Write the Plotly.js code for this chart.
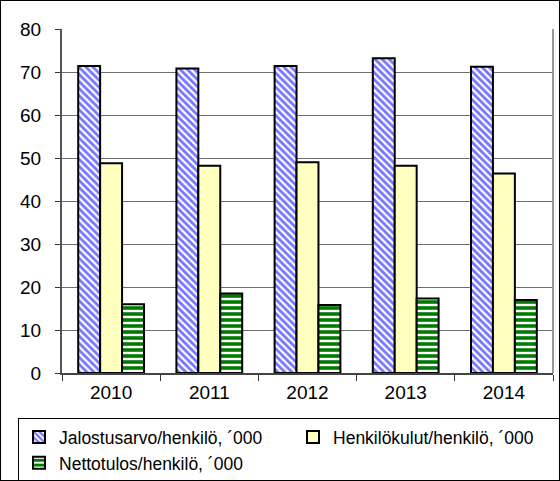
<!DOCTYPE html>
<html><head><meta charset="utf-8">
<script src="https://cdn.plot.ly/plotly-3.0.1.min.js"></script>
<style>body{margin:0;padding:0;background:#fff}#wrap{position:relative;width:560px;height:481px;overflow:hidden}#c{width:560px;height:481px}#frame{position:absolute;left:0;top:0;width:558px;height:479px;border:1px solid #000;pointer-events:none}</style>
</head><body>
<div id="wrap"><div id="c"></div><div id="frame"></div></div>
<script>
const years = ['2010','2011','2012','2013','2014'];
const jalostusarvo = [71.4, 70.8, 71.4, 73.2, 71.2];
const henkilokulut = [48.8, 48.2, 49.0, 48.2, 46.4];
const nettotulos = [16.0, 18.5, 15.8, 17.3, 17.0];
const names = ['Jalostusarvo/henkilö, ´000','Henkilökulut/henkilö, ´000','Nettotulos/henkilö, ´000'];

const traces = [
  {type:'bar', x:years, y:jalostusarvo, name:names[0],
   marker:{color:'#ffffff', line:{color:'#000', width:2},
     pattern:{shape:'\\', fgcolor:'#7575ff', bgcolor:'#ffffff', size:5, solidity:0.55}}},
  {type:'bar', x:years, y:henkilokulut, name:names[1],
   marker:{color:'#ffffc0', line:{color:'#000', width:2}}},
  {type:'bar', x:years, y:nettotulos, name:names[2],
   marker:{color:'#ffffff', line:{color:'#000', width:2},
     pattern:{shape:'-', fgcolor:'#007a00', bgcolor:'#ffffff', size:6, solidity:0.6}}}
];
const layout = {
  width:560, height:481,
  margin:{l:62, r:7, t:29, b:108, autoexpand:false},
  paper_bgcolor:'#fff', plot_bgcolor:'#fff',
  font:{family:'Liberation Sans, Arial, sans-serif', size:18, color:'#000'},
  barmode:'group', bargap:0.33, bargroupgap:0,
  xaxis:{type:'category', showline:true, linecolor:'#444', linewidth:2, ticks:'outside', tickson:'boundaries', ticklen:6, tickcolor:'#333', showgrid:false, tickfont:{size:19}, ticklabelstandoff:1},
  yaxis:{range:[0,80], dtick:10, showline:true, linecolor:'#555', linewidth:2, ticks:'outside', ticklen:5, tickcolor:'#333', gridcolor:'#6e6e6e', gridwidth:1, zeroline:false, tickfont:{size:19}, ticklabelstandoff:10},
  shapes:[{type:'line', xref:'paper', yref:'paper', x0:1, x1:1, y0:0, y1:1, line:{color:'#999', width:2}}],
  showlegend:true,
  legend:{orientation:'h', x:-0.0896, xanchor:'left', y:-0.131, yanchor:'top', bordercolor:'#000', borderwidth:1, bgcolor:'#fff', font:{size:17.5}, entrywidth:229, traceorder:'normal'}
};
Plotly.newPlot('c', traces, layout, {displayModeBar:false, staticPlot:true});
</script>
</body></html>
